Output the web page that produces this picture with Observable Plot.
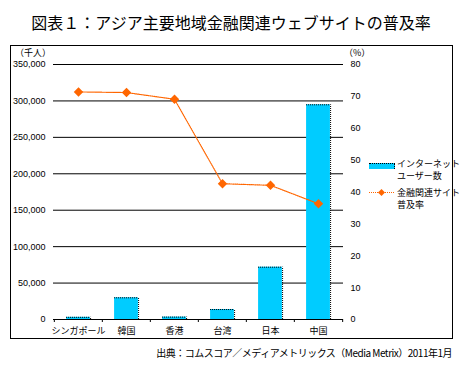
<!DOCTYPE html>
<html><head><meta charset="utf-8">
<script src="https://cdn.jsdelivr.net/npm/d3@7"></script>
<script src="https://cdn.jsdelivr.net/npm/@observablehq/plot@0.6"></script>
<style>
body{margin:0;background:#fff;}
#wrap{position:relative;width:462px;height:366px;font-family:"Liberation Sans","Noto Sans CJK JP",sans-serif;color:#000;}
#title{position:absolute;left:0;top:0;width:462px;height:45px;line-height:45px;text-align:center;font-family:"Noto Sans CJK JP",sans-serif;font-size:16px;}
#box{position:absolute;left:10px;top:45px;width:441px;height:292px;border:1px solid #000;}
#chart{position:absolute;left:0;top:45px;}
.unit{position:absolute;top:46px;font-size:9px;font-family:"Noto Sans CJK JP",sans-serif;}
.lt{position:absolute;left:397px;font-size:9px;line-height:11px;height:11px;white-space:nowrap;font-family:"Noto Sans CJK JP",sans-serif;}
#caption{position:absolute;left:0;top:345px;width:452px;text-align:right;font-size:10px;letter-spacing:-0.5px;font-family:"Noto Sans CJK JP",sans-serif;}
</style></head>
<body>
<div id="wrap">
  <div id="title">図表１：アジア主要地域金融関連ウェブサイトの普及率</div>
  <div id="box"></div>
  <div id="chart"></div>
  <div class="unit" style="left:15px">（千人）</div>
  <div class="unit" style="left:344px">（%）</div>
  <div style="position:absolute;left:369px;top:163px;width:25px;height:5px;background:#00CCFF;border-top:1px dotted #000;border-right:1px dotted #000;"></div>
  <div class="lt" style="top:158px">インターネット</div>
  <div class="lt" style="top:170px">ユーザー数</div>
  <div style="position:absolute;left:369px;top:192px;width:25px;border-top:1px dotted #FF6600;"></div>
  <div style="position:absolute;left:379px;top:189.5px;width:5px;height:5px;background:#FF6600;transform:rotate(45deg);"></div>
  <div class="lt" style="top:187px">金融関連サイト</div>
  <div class="lt" style="top:199px">普及率</div>
  <div id="caption">出典：コムスコア／メディアメトリックス（Media Metrix）2011年1月</div>
</div>
<script>
const countries = ["シンガポール","韓国","香港","台湾","日本","中国"];
const users = [3000, 29800, 3300, 13700, 71800, 294700]; // 千人
const rate = [71.4, 71.2, 69.1, 42.6, 42.1, 36.3]; // %
const leftTicks = [0,50000,100000,150000,200000,250000,300000,350000];
const rightTicks = [0,10,20,30,40,50,60,70,80];

const W=462,H=293,ML=53,MR=119,MT=19,MB=19;
const bw=(W-ML-MR)/countries.length;
const inset=bw/4;
const YMAX=350000, PMAX=80, k=YMAX/PMAX;
const rows = countries.map((c,i)=>({c,u:users[i],p:rate[i]}));
const font = '"Liberation Sans","Noto Sans CJK JP",sans-serif';

const plot = Plot.plot({
  width:W,height:H,marginLeft:ML,marginRight:MR,marginTop:MT,marginBottom:MB,
  style:{fontFamily:font,fontSize:"9px",color:"#000",background:"transparent",overflow:"visible"},
  x:{domain:countries,padding:0,label:null},
  y:{domain:[0,YMAX],label:null},
  marks:[
    Plot.ruleY(leftTicks,{stroke:"#000",strokeWidth:1}),
    Plot.barY(rows,{x:"c",y:"u",fill:"#00CCFF",insetLeft:inset,insetRight:inset}),
    Plot.tickY(rows,{x:"c",y:"u",stroke:"#000",strokeDasharray:"1,1",insetLeft:inset,insetRight:inset}),
    Plot.ruleX(rows,{x:"c",y1:0,y2:"u",dx:bw/2-inset,stroke:"#000",strokeDasharray:"1,1"}),
    Plot.ruleX(countries,{x:d=>d,y1:0,y2:-YMAX*3/255,dx:-bw/2,stroke:"#000"}),
    Plot.ruleX([countries[countries.length-1]],{x:d=>d,y1:0,y2:-YMAX*3/255,dx:bw/2,stroke:"#000"}),
    Plot.line(rows,{x:"c",y:d=>d.p*k,stroke:"#FF6600",strokeWidth:1.2,strokeDasharray:"1,1"}),
    Plot.dot(rows,{x:"c",y:d=>d.p*k,symbol:"diamond2",r:3.3,fill:"#FF6600",stroke:"#FF6600"}),
    Plot.axisY({ticks:leftTicks,tickFormat:d3.format(","),tickSize:0,tickPadding:8,anchor:"left",label:null}),
    Plot.axisY({ticks:rightTicks.map(p=>p*k),tickFormat:d=>String(Math.round(d/k)),tickSize:0,tickPadding:7,anchor:"right",label:null}),
    Plot.axisX({tickSize:0,tickPadding:8,anchor:"bottom",label:null})
  ]
});
document.getElementById("chart").appendChild(plot);
</script>
</body></html>
